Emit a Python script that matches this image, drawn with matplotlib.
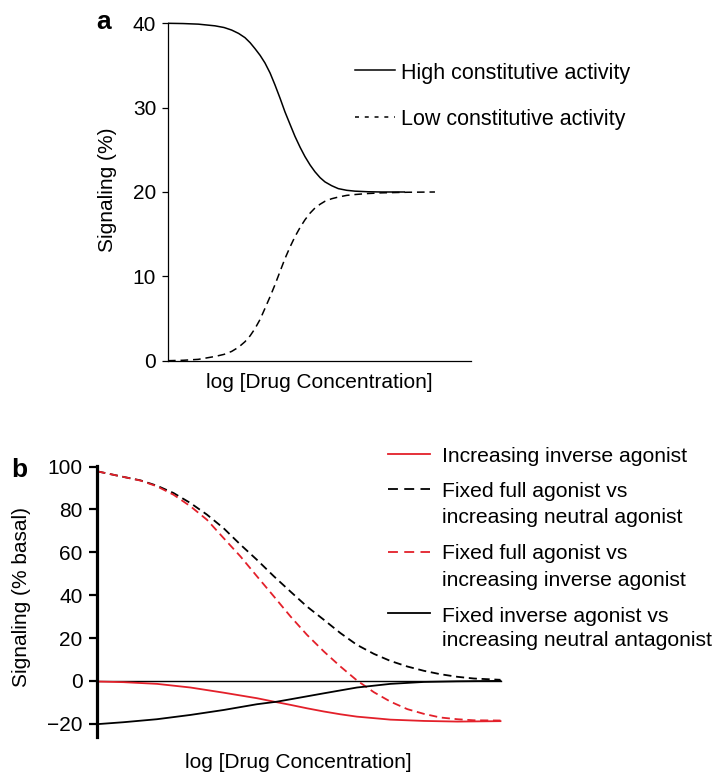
import matplotlib
matplotlib.use("Agg")
import matplotlib.pyplot as plt
from matplotlib.lines import Line2D

plt.rcParams['font.family'] = ['Liberation Sans', 'DejaVu Sans']

W, H = 716, 773
RED = '#e3202a'

# ---------------- Panel a data ----------------
a_high_x = [0.0, 0.5, 1.0, 1.55, 1.85, 2.10, 2.33, 2.54, 2.71, 2.87, 3.04, 3.20, 3.37, 3.53, 3.70,
            3.86, 4.03, 4.19, 4.36, 4.52, 4.69, 4.85, 5.02, 5.18, 5.40, 5.62, 5.90, 6.17, 6.60, 7.05, 7.82]
a_high_y = [40.0, 39.97, 39.9, 39.7, 39.5, 39.2, 38.8, 38.3, 37.7, 37.0, 36.2, 35.3, 34.1, 32.7, 31.1,
            29.5, 28.0, 26.6, 25.3, 24.2, 23.2, 22.4, 21.7, 21.2, 20.75, 20.4, 20.2, 20.1, 20.03, 20.0, 20.0]
a_low_x = [0.0, 0.5, 1.0, 1.55, 1.85, 2.10, 2.33, 2.54, 2.71, 2.87, 3.04, 3.20, 3.37, 3.53, 3.70,
           3.86, 4.03, 4.19, 4.36, 4.52, 4.69, 4.85, 5.02, 5.18, 5.40, 5.62, 5.90, 6.17, 6.60, 7.05, 7.90, 8.81]
a_low_y = [0.0, 0.05, 0.16, 0.5, 0.75, 1.1, 1.6, 2.25, 2.95, 3.8, 4.9, 6.2, 7.6, 9.0, 10.6,
           12.1, 13.5, 14.7, 15.8, 16.7, 17.5, 18.1, 18.55, 18.9, 19.2, 19.4, 19.6, 19.7, 19.82, 19.9, 19.97, 20.0]
a_yticks = [0, 10, 20, 30, 40]
a_labels = ["High constitutive activity", "Low constitutive activity"]

# ---------------- Panel b data ----------------
b_x = [0.0, 0.65, 1.07, 1.48, 1.89, 2.31, 2.72, 3.13, 3.55, 3.96, 4.38, 4.79, 5.20, 5.62,
       6.03, 6.44, 6.86, 7.27, 7.69, 8.10, 8.51, 8.93, 9.34, 10.0]
b_full_neutral = [97.8, 95.2, 93.6, 91.1, 87.7, 83.0, 77.6, 71.3, 63.6, 56.5, 48.8, 41.7, 34.7, 28.5,
                  22.3, 16.8, 12.6, 9.3, 6.7, 4.7, 3.1, 1.9, 1.1, 0.5]
b_full_inverse = [97.8, 95.2, 93.5, 90.8, 86.9, 81.5, 75.2, 66.7, 58.1, 48.8, 39.4, 30.1, 21.5, 13.7,
                  6.7, 0.2, -5.3, -9.7, -13.2, -15.4, -17.1, -17.9, -18.4, -18.5]
b_inv_x = [0.0, 0.65, 1.48, 2.31, 3.13, 3.96, 4.38, 4.79, 5.20, 5.62, 6.03, 6.44, 6.86, 7.27, 8.10, 8.93, 10.0]
b_inverse = [-0.3, -0.6, -1.4, -3.1, -5.5, -8.1, -9.7, -11.2, -12.8, -14.3, -15.6, -16.7, -17.4, -18.1, -18.7, -19.0, -18.8]
b_fix_x = [0.0, 0.65, 1.48, 2.31, 3.13, 3.96, 4.46, 4.79, 5.62, 6.44, 7.27, 8.10, 8.93, 10.0]
b_fixed_inverse = [-20.2, -19.3, -17.9, -15.9, -13.6, -10.9, -9.7, -8.6, -5.8, -3.1, -1.4, -0.5, -0.2, 0.0]
b_yticks = [-20, 0, 20, 40, 60, 80, 100]
b_ytick_labels = ["\u221220", "0", "20", "40", "60", "80", "100"]
b_labels = [["Increasing inverse agonist"],
            ["Fixed full agonist vs", "increasing neutral agonist"],
            ["Fixed full agonist vs", "increasing inverse agonist"],
            ["Fixed inverse agonist vs", "increasing neutral antagonist"]]

fig = plt.figure(figsize=(W / 100, H / 100), dpi=100)

def fx(px):
    return px / W

def fy(py):
    return 1 - py / H

# ---------------- Panel a ----------------
axa = fig.add_axes([fx(168), fy(360.7), fx(471) - fx(168), (360.7 - 23.3) / H])
axa.plot(a_high_x, a_high_y, color='black', lw=1.1, clip_on=False, solid_capstyle='butt')
axa.plot(a_low_x, a_low_y, color='black', lw=1.1, dashes=(5, 3.2), clip_on=False)
axa.set_xlim(0, 10)
axa.set_ylim(0, 40)
axa.set_yticks(a_yticks)
axa.set_xticks([])
for s in ['top', 'right']:
    axa.spines[s].set_visible(False)
for s in ['left', 'bottom']:
    axa.spines[s].set_linewidth(0.9)
axa.tick_params(axis='y', direction='out', length=4.5, width=0.9, pad=4, labelsize=15)
fig.text(fx(107.5), fy(190), "Signaling (%)", rotation=90, ha='center', va='center', fontsize=15)
fig.text(fx(319.5), fy(383), "log [Drug Concentration]", ha='center', va='center', fontsize=15)
fig.text(fx(96), fy(29), "a", fontsize=19, fontweight='bold', ha='left', va='baseline')

# legend a
fig.add_artist(Line2D([fx(355), fx(395)], [fy(70), fy(70)], transform=fig.transFigure,
                      color='black', lw=1.1))
fig.add_artist(Line2D([fx(355), fx(395)], [fy(117), fy(117)], transform=fig.transFigure,
                      color='black', lw=1.1, dashes=(2.6, 3.8)))
fig.text(fx(401), fy(79.3), a_labels[0], fontsize=15.5, ha='left', va='baseline')
fig.text(fx(401), fy(125), a_labels[1], fontsize=15.5, ha='left', va='baseline')

# ---------------- Panel b ----------------
axb = fig.add_axes([fx(97.3), fy(737), fx(500.5) - fx(97.3), (737 - 466) / H])
axb.plot([b_x[0], b_x[-1]], [0, 0], color='black', lw=1.0, clip_on=False)
axb.plot(b_x, b_full_neutral, color='black', lw=1.3, dashes=(4.5, 2.6), clip_on=False)
axb.plot(b_x, b_full_inverse, color=RED, lw=1.3, dashes=(4.5, 2.6), clip_on=False)
axb.plot(b_inv_x, b_inverse, color=RED, lw=1.3, clip_on=False)
axb.plot(b_fix_x, b_fixed_inverse, color='black', lw=1.3, clip_on=False)
axb.set_xlim(0, 10)
axb.set_ylim(-26.2, 100.3)
axb.set_yticks(b_yticks)
axb.set_yticklabels(b_ytick_labels)
axb.set_xticks([])
for s in ['top', 'right', 'bottom']:
    axb.spines[s].set_visible(False)
axb.spines['left'].set_linewidth(2.3)
axb.tick_params(axis='y', direction='out', length=5.5, width=1.6, pad=5, labelsize=15)
fig.text(fx(22), fy(597), "Signaling (% basal)", rotation=90, ha='center', va='center', fontsize=15)
fig.text(fx(298), fy(762), "log [Drug Concentration]", ha='center', va='center', fontsize=15)
fig.text(fx(11), fy(477), "b", fontsize=19, fontweight='bold', ha='left', va='baseline')

# legend b
leg_line_y = [454.3, 489.3, 551.7, 613.3]
leg_text_base = [[461.7], [497.3, 523.3], [559.3, 585.7], [621.7, 646.5]]
leg_styles = [dict(color=RED), dict(color='black', dashes=(5.5, 3.5)),
              dict(color=RED, dashes=(5.5, 3.5)), dict(color='black')]
for ly, bases, labs, st in zip(leg_line_y, leg_text_base, b_labels, leg_styles):
    fig.add_artist(Line2D([fx(388), fx(430)], [fy(ly), fy(ly)], transform=fig.transFigure,
                          lw=1.3, **st))
    for b, t in zip(bases, labs):
        fig.text(fx(441.5), fy(b), t, fontsize=15.2, ha='left', va='baseline')

fig.savefig("out.png", dpi=100)
